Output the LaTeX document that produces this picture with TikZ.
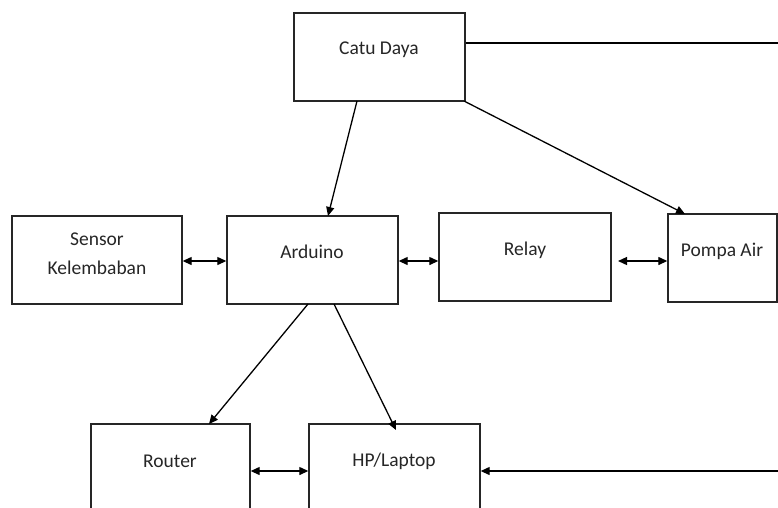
\documentclass[tikz,border=0pt]{standalone}
\usepackage{fontspec}
\setmainfont{Carlito}
\usetikzlibrary{arrows.meta}
\begin{document}
\begin{tikzpicture}[x=1pt,y=-1pt,
  box/.style={draw=black!85, line width=1.4pt, minimum height=88, inner sep=0pt},
  lbl/.style={font=\fontsize{19.5}{23}\selectfont, text=black!85, inner sep=0pt},
  conn/.style={line width=1.3pt, -{Triangle[length=9pt,width=8pt]}},
  biconn/.style={line width=1.3pt, {Triangle[length=9pt,width=8pt]}-{Triangle[length=9pt,width=8pt]}},
  plain/.style={line width=1.3pt}]
\fill[white] (0,0) rectangle (778,507);
\useasboundingbox (0,0) rectangle (778,507);
\clip (0,0) rectangle (778,507);
% boxes
\node[box, minimum width=171] (catu) at (379.5,57) {};
\node[box, minimum width=170] (sensor) at (97,260) {};
\node[box, minimum width=171] (arduino) at (312.5,260) {};
\node[box, minimum width=172] (relay) at (525,257) {};
\node[box, minimum width=109] (pompa) at (722.5,258) {};
\node[box, minimum width=159] (router) at (170.5,468) {};
\node[box, minimum width=171] (hp) at (394.5,468) {};
% labels
\node[lbl] (tcatu) at (379,50) {Catu Daya};
\node[lbl] (tsensor1) at (97,239) {Sensor};
\node[lbl] (tsensor2) at (97,268) {Kelembaban};
\node[lbl] (tarduino) at (312,252) {Arduino};
\node[lbl] (trelay) at (525,250) {Relay};
\node[lbl] (tpompa) at (722,251) {Pompa Air};
\node[lbl] (trouter) at (170,461) {Router};
\node[lbl] (thp) at (394,461) {HP/Laptop};
% coordinates
\coordinate (c1) at (357,101);
\coordinate (c2) at (328,216);
\coordinate (c3) at (464,101);
\coordinate (c4) at (685,214);
\coordinate (c5) at (308,304);
\coordinate (c6) at (209,424);
\coordinate (c7) at (334,304);
\coordinate (c8) at (396,430);
\coordinate (r1) at (780,43);
\coordinate (r2) at (780,471);
\coordinate (p1) at (618,261);
% connectors
\draw[plain] (catu.east |- r1) -- (r1);
\draw[conn] (c1) -- (c2);
\draw[conn] (c3) -- (c4);
\draw[biconn] (sensor.east |- 0,261) -- (arduino.west |- 0,261);
\draw[biconn] (arduino.east |- 0,261) -- (relay.west |- 0,261);
\draw[biconn] (p1) -- (pompa.west |- p1);
\draw[conn] (c5) -- (c6);
\draw[conn] (c7) -- (c8);
\draw[biconn] (router.east |- 0,471) -- (hp.west |- 0,471);
\draw[conn] (r2) -- (hp.east |- r2);
\end{tikzpicture}
\end{document}
